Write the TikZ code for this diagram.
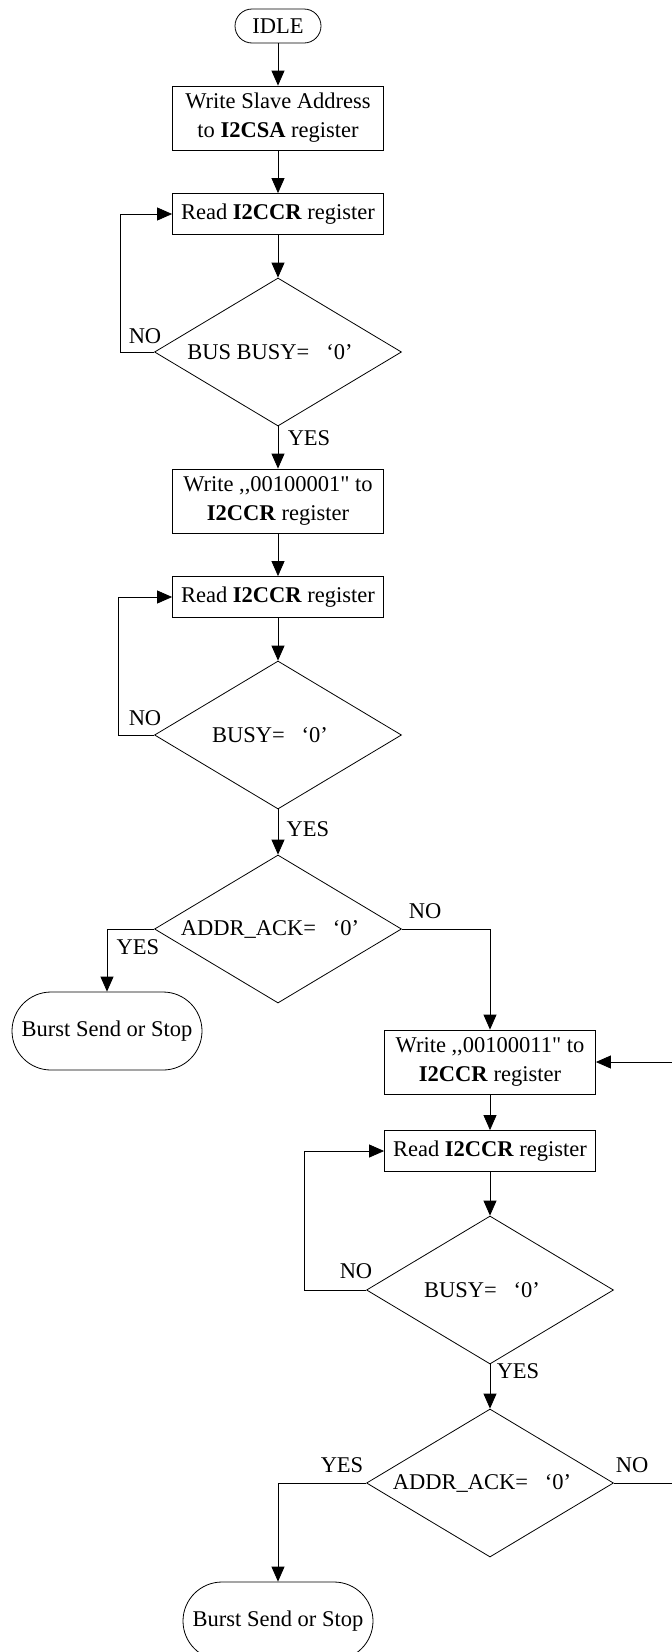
\documentclass[tikz,border=0pt]{standalone}
\usepackage{fontspec}
\setmainfont{Liberation Serif}[Ligatures=TeXOff]
\usetikzlibrary{shapes.geometric,arrows.meta,positioning}

\begin{document}
\begin{tikzpicture}[x=1pt, y=1pt, line width=0.8pt,
  font=\fontsize{22.5}{29}\selectfont,
  >={Triangle[length=15pt,width=13pt]},
  box/.style={draw, shape=rectangle, minimum width=211pt, inner sep=3pt, align=center},
  decision/.style={draw, shape=diamond, aspect=1.67, inner sep=0pt, minimum width=247pt, minimum height=148pt},
  terminal/.style={draw, shape=rectangle, rounded corners=39pt, minimum width=190pt, minimum height=78pt},
  lbl/.style={inner sep=0pt}]
\useasboundingbox (0,0) rectangle (672,-1652);

\node[draw, shape=rectangle, rounded corners=17pt, minimum width=86pt, minimum height=34pt] (1) at (278,-26) {IDLE};
\node[box, minimum height=64pt] (2) at (278,-118) {Write Slave Address\\to \textbf{I2CSA} register};
\node[box, minimum height=41pt] (3) at (278,-214) {Read \textbf{I2CCR} register};
\node[decision] (4) at (278,-352) {BUS BUSY=\hspace{17pt}‘0’\kern16pt};
\node[box, minimum height=64pt] (5) at (278,-501) {Write ,,00100001" to\\\textbf{I2CCR} register};
\node[box, minimum height=41pt] (6) at (278,-597) {Read \textbf{I2CCR} register};
\node[decision] (7) at (278,-735) {BUSY=\hspace{17pt}‘0’\kern16pt};
\node[decision] (8) at (278,-929) {ADDR\_ACK=\hspace{17pt}‘0’\kern16pt};
\node[terminal] (9) at (107,-1031) {Burst Send or Stop};
\node[box, minimum height=64pt] (10) at (490,-1062) {Write ,,00100011" to\\\textbf{I2CCR} register};
\node[box, minimum height=41pt] (11) at (490,-1151) {Read \textbf{I2CCR} register};
\node[decision] (12) at (490,-1290) {BUSY=\hspace{17pt}‘0’\kern16pt};
\node[decision] (13) at (490,-1483) {ADDR\_ACK=\hspace{17pt}‘0’\kern16pt};
\node[terminal] (14) at (278,-1621) {Burst Send or Stop};

% loop corners
\coordinate (c1) at (120,-352);
\coordinate (c2) at (118,-735);
\coordinate (c3) at (304,-1290);
\coordinate (c4) at (690,-1483);
\coordinate (c5) at (690,-1062);

\draw[->] (1) -- (2);
\draw[->] (2) -- (3);
\draw[->] (3) -- (4);
\draw[->] (4.west) -- (c1) |- (3.west);
\draw[->] (4) -- (5);
\draw[->] (5) -- (6);
\draw[->] (6) -- (7);
\draw[->] (7.west) -- (c2) |- (6.west);
\draw[->] (7) -- (8);
\draw[->] (8.west) -| (9.north);
\draw[->] (8.east) -| (10.north);
\draw[->] (10) -- (11);
\draw[->] (11) -- (12);
\draw[->] (12.west) -- (c3) |- (11.west);
\draw[->] (12) -- (13);
\draw[->] (13.west) -| (14.north);
\draw[->] (13.east) -- (c4) -- (c5) -- (10.east);

\begin{scope}[nodes = {lbl}]
\node (n1) at (145,-336) {NO};
\node (y1) at (309,-438) {YES};
\node (n2) at (145,-718) {NO};
\node (y2) at (308,-829) {YES};
\node (n3) at (425,-911) {NO};
\node (y3) at (138,-947) {YES};
\node (n4) at (356,-1271) {NO};
\node (y4) at (518,-1371) {YES};
\node (y5) at (342,-1465) {YES};
\node (n5) at (632,-1465) {NO};
\end{scope}
\end{tikzpicture}
\end{document}
